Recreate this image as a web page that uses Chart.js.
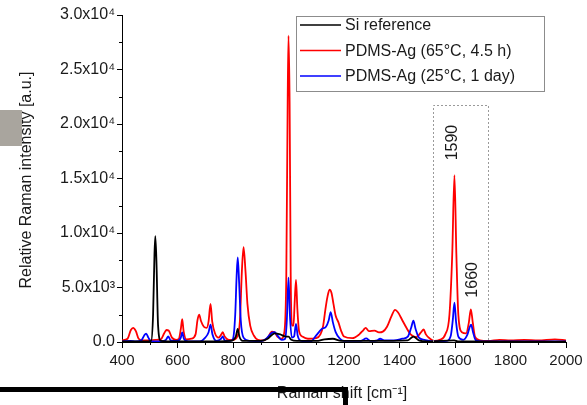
<!DOCTYPE html>
<html>
<head>
<meta charset="utf-8">
<script src="https://cdn.jsdelivr.net/npm/chart.js@4.4.0/dist/chart.umd.min.js"></script>
<style>
    body { margin: 0; background: #fff; }
    #wrap { position: relative; width: 587px; height: 405px; }
</style>
</head>
<body>
<div id="wrap"><canvas id="ramanChart"></canvas></div>
<script>
"use strict";

/** DATA */

// Si reference
const siShift = [400, 480, 505, 512, 517, 520, 524, 530, 540, 600, 700, 790, 810, 817, 823, 835, 900, 925, 950, 970, 990, 1000, 1010, 1030, 1100, 1130, 1160, 1190, 1300, 1430, 1450, 1470, 1500, 1597, 1610, 2000];
const siIntensity = [50, 50, 100, 2500, 8000, 9700, 7500, 1500, 100, 50, 50, 100, 500, 1200, 500, 100, 100, 300, 800, 700, 500, 500, 200, 100, 100, 250, 300, 100, 100, 150, 500, 150, 50, 150, 50, 30];

// PDMS-Ag (65°C, 4.5 h)
const hotShift = [400, 420, 432, 440, 450, 460, 475, 500, 520, 540, 552, 560, 568, 580, 595, 605, 612, 617, 622, 632, 650, 665, 672, 678, 685, 695, 705, 712, 719, 725, 735, 748, 758, 763, 770, 785, 800, 815, 825, 832, 838, 845, 852, 862, 875, 890, 910, 925, 940, 950, 960, 975, 985, 992, 997, 1000, 1004, 1008, 1013, 1018, 1022, 1027, 1032, 1038, 1050, 1070, 1100, 1115, 1125, 1133, 1140, 1148, 1155, 1162, 1170, 1180, 1190, 1200, 1230, 1255, 1270, 1278, 1290, 1310, 1326, 1340, 1355, 1370, 1384, 1395, 1410, 1425, 1440, 1460, 1478, 1487, 1495, 1510, 1525, 1545, 1565, 1580, 1590, 1598, 1605, 1612, 1625, 1640, 1650, 1657, 1664, 1672, 1690, 1720, 1760, 1800, 1850, 1900, 1960, 2000];
const hotIntensity = [150, 300, 1100, 1300, 1000, 300, 150, 150, 200, 250, 800, 1100, 1050, 400, 200, 300, 1200, 2100, 1000, 250, 300, 700, 2000, 2500, 1900, 1400, 1300, 1900, 3500, 1900, 800, 400, 700, 900, 500, 200, 200, 500, 2000, 6500, 8700, 6500, 3500, 1500, 600, 200, 150, 400, 950, 900, 500, 300, 900, 6000, 22000, 28100, 22000, 6000, 1500, 1500, 3500, 5700, 3000, 1000, 500, 300, 350, 700, 1500, 3000, 4100, 4800, 4500, 3500, 2400, 1800, 1000, 500, 350, 700, 1100, 1300, 1000, 1050, 880, 950, 1400, 2300, 2950, 2700, 2000, 1300, 700, 450, 900, 1150, 700, 300, 100, 200, 700, 2500, 8000, 15300, 8000, 2500, 900, 800, 1800, 3000, 1800, 500, 150, 100, 200, 150, 200, 150, 250, 150];

// PDMS-Ag (25°C, 1 day)
const roomShift = [400, 430, 450, 470, 480, 487, 495, 505, 540, 558, 567, 575, 600, 612, 617, 623, 640, 680, 700, 712, 719, 726, 740, 757, 763, 770, 790, 800, 808, 813, 817, 822, 828, 838, 860, 900, 920, 940, 950, 960, 975, 988, 994, 1000, 1005, 1012, 1020, 1027, 1033, 1045, 1080, 1100, 1120, 1135, 1145, 1152, 1160, 1170, 1185, 1200, 1260, 1280, 1295, 1320, 1330, 1345, 1380, 1410, 1430, 1442, 1450, 1458, 1470, 1490, 1520, 1570, 1585, 1592, 1598, 1604, 1612, 1630, 1645, 1652, 1658, 1665, 1675, 1700, 2000];
const roomIntensity = [50, 100, 50, 150, 600, 760, 400, 50, 50, 200, 510, 150, 100, 400, 880, 300, 50, 50, 400, 900, 1600, 700, 100, 300, 510, 150, 100, 300, 2500, 6000, 7760, 5500, 2000, 400, 100, 80, 300, 850, 900, 600, 200, 300, 2000, 5900, 2500, 400, 500, 1650, 600, 100, 50, 600, 1200, 1400, 2000, 2750, 1800, 900, 300, 100, 100, 330, 100, 150, 300, 150, 150, 300, 500, 1300, 1950, 1200, 400, 200, 50, 100, 600, 2000, 3600, 1800, 500, 200, 700, 1300, 1590, 900, 150, 50, 50];

// Series labels and colours
const seriesLabels = ['Si reference', 'PDMS-Ag (65°C, 4.5 h)', 'PDMS-Ag (25°C, 1 day)'];
const seriesColors = ['#000000', '#ff0000', '#0000ff'];

// Axis ticks
const xTickValues = [400, 600, 800, 1000, 1200, 1400, 1600, 1800, 2000];
const xTickLabels = ['400', '600', '800', '1000', '1200', '1400', '1600', '1800', '2000'];
const xMinorTicks = [500, 700, 900, 1100, 1300, 1500, 1700, 1900];
const yTickValues = [0, 5000, 10000, 15000, 20000, 25000, 30000];
const yTickLabels = ['0.0', '5.0x10³', '1.0x10⁴', '1.5x10⁴', '2.0x10⁴', '2.5x10⁴', '3.0x10⁴'];
const yMinorTicks = [2500, 7500, 12500, 17500, 22500, 27500];

// Peak annotations and dotted box
const peakLabels = ['1590', '1660'];
const peakLabelShift = [1593, 1662];
const peakLabelIntensity = [18300, 5700];
const boxShift = [1521, 1720];
const boxTop = 21770;

const toPoints = (xs, ys) => xs.map((x, i) => ({ x, y: ys[i] }));

const FONT = '"Liberation Sans", Arial, sans-serif';
const TEXT_COLOR = '#1a1a1a';


/** EXTRA DRAWING: minor ticks, legend, annotations, titles */
const decorPlugin = {
    id: 'decor',
    afterDraw(chart) {
        const { ctx, chartArea } = chart;
        const x = chart.scales.x;
        const y = chart.scales.y;
        ctx.save();

        // Minor ticks
        ctx.strokeStyle = '#000';
        ctx.lineWidth = 1;
        ctx.beginPath();
        xMinorTicks.forEach(v => {
            const px = Math.round(x.getPixelForValue(v)) + 0.5;
            ctx.moveTo(px, chartArea.bottom);
            ctx.lineTo(px, chartArea.bottom + 3);
        });
        yMinorTicks.forEach(v => {
            const py = Math.round(y.getPixelForValue(v)) + 0.5;
            ctx.moveTo(chartArea.left, py);
            ctx.lineTo(chartArea.left - 3, py);
        });
        ctx.stroke();

        // Dotted box round the 1590 / 1660 bands
        const bx0 = Math.round(x.getPixelForValue(boxShift[0])) + 0.5;
        const bx1 = Math.round(x.getPixelForValue(boxShift[1])) + 0.5;
        const by0 = Math.round(y.getPixelForValue(boxTop)) + 0.5;
        ctx.strokeStyle = '#9a9a9a';
        ctx.setLineDash([2, 2]);
        ctx.beginPath();
        ctx.moveTo(bx0, chartArea.bottom);
        ctx.lineTo(bx0, by0);
        ctx.lineTo(bx1, by0);
        ctx.lineTo(bx1, chartArea.bottom);
        ctx.stroke();
        ctx.setLineDash([]);

        // Rotated peak labels
        ctx.fillStyle = TEXT_COLOR;
        ctx.font = `16px ${ FONT }`;
        ctx.textAlign = 'center';
        ctx.textBaseline = 'middle';
        peakLabels.forEach((label, i) => {
            ctx.save();
            ctx.translate(x.getPixelForValue(peakLabelShift[i]), y.getPixelForValue(peakLabelIntensity[i]));
            ctx.rotate(-Math.PI / 2);
            ctx.fillText(label, 0, 0);
            ctx.restore();
        });

        // Legend
        ctx.fillStyle = '#fff';
        ctx.fillRect(296, 16, 248, 75);
        ctx.strokeStyle = '#8c8c8c';
        ctx.lineWidth = 1;
        ctx.strokeRect(296.5, 16.5, 248, 75);
        seriesLabels.forEach((label, i) => {
            const rowY = 25 + i * 25.5;
            ctx.strokeStyle = seriesColors[i];
            ctx.lineWidth = 1.5;
            ctx.beginPath();
            ctx.moveTo(300, rowY);
            ctx.lineTo(341, rowY);
            ctx.stroke();
            ctx.fillStyle = TEXT_COLOR;
            ctx.textAlign = 'left';
            ctx.fillText(label, 345, rowY + 1);
        });

        // Axis titles
        ctx.textAlign = 'center';
        ctx.save();
        ctx.translate(27, 180);
        ctx.rotate(-Math.PI / 2);
        ctx.fillText('Relative Raman intensity [a.u.]', 0, 0);
        ctx.restore();
        ctx.fillText('Raman shift [cm⁻¹]', 342, 394);

        // Stray marks on the scanned figure
        ctx.fillStyle = '#a9a59e';
        ctx.fillRect(0, 110, 22, 36);
        ctx.fillStyle = '#000';
        ctx.fillRect(0, 387, 348, 5);
        ctx.fillRect(343, 387, 5, 18);

        ctx.restore();
    }
};


/** INITIALIZE CHART */
const datasetOf = (label, xs, ys, color, order) => ({
    label,
    data: toPoints(xs, ys),
    borderColor: color,
    backgroundColor: color,
    borderWidth: 1.8,
    pointRadius: 0,
    cubicInterpolationMode: 'monotone',
    order
});

const ramanChart = new Chart(document.getElementById('ramanChart').getContext('2d'), {
    type: 'line',
    data: {
        datasets: [
            datasetOf(seriesLabels[0], siShift, siIntensity, seriesColors[0], 0),
            datasetOf(seriesLabels[1], hotShift, hotIntensity, seriesColors[1], 2),
            datasetOf(seriesLabels[2], roomShift, roomIntensity, seriesColors[2], 1)
        ]
    },
    options: {
        responsive: true,
        maintainAspectRatio: false,
        animation: false,
        layout: {
            padding: { top: 15, right: 21, left: 0, bottom: 0 }
        },
        plugins: {
            legend: { display: false },
            tooltip: { enabled: false }
        },
        scales: {
            x: {
                type: 'linear',
                min: 400,
                max: 2000,
                afterBuildTicks: scale => {
                    scale.ticks = xTickValues.map(value => ({ value }));
                },
                afterFit: scale => { scale.height = 63; },
                grid: {
                    drawOnChartArea: false,
                    drawTicks: true,
                    tickLength: 6,
                    color: '#000'
                },
                border: { display: true, color: '#000', width: 1 },
                ticks: {
                    padding: 4,
                    color: TEXT_COLOR,
                    font: { family: FONT, size: 15 },
                    maxRotation: 0,
                    autoSkip: false,
                    callback: value => xTickLabels[xTickValues.indexOf(value)]
                }
            },
            y: {
                min: 0,
                max: 30000,
                afterBuildTicks: scale => {
                    scale.ticks = yTickValues.map(value => ({ value }));
                },
                afterFit: scale => { scale.width = 122; },
                grid: {
                    drawOnChartArea: false,
                    drawTicks: true,
                    tickLength: 5,
                    color: '#000'
                },
                border: { display: true, color: '#000', width: 1 },
                ticks: {
                    padding: 2,
                    color: TEXT_COLOR,
                    font: { family: FONT, size: 16 },
                    autoSkip: false,
                    callback: value => yTickLabels[yTickValues.indexOf(value)]
                }
            }
        }
    },
    plugins: [decorPlugin]
});
</script>
</body>
</html>
